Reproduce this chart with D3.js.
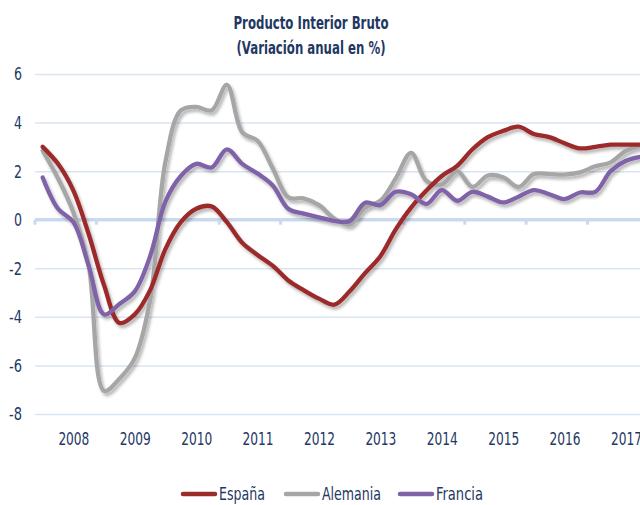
<!DOCTYPE html>
<html><head><meta charset="utf-8">
<script src="https://cdn.jsdelivr.net/npm/d3@7"></script>
<style>
html,body{margin:0;padding:0;background:#fff;overflow:hidden}
text{font-family:'Liberation Sans Narrow','Arial Narrow','DejaVu Sans Condensed',sans-serif;fill:#1f3864}
</style></head><body>
<svg id="c" width="640" height="505"></svg>
<script>
const title1 = "Producto Interior Bruto";
const title2 = "(Variación anual en %)";
const years = ["2008","2009","2010","2011","2012","2013","2014","2015","2016","2017"];
const yTicks = [-8,-6,-4,-2,0,2,4,6];
const seriesNames = ["España","Alemania","Francia"];
const seriesColors = ["#9c2b2b","#a6a6a6","#7f62a8"];
const espana = [3.0,2.3,1.2,-0.6,-2.7,-4.25,-3.9,-2.9,-1.2,-0.1,0.45,0.55,-0.1,-0.95,-1.45,-1.9,-2.5,-2.9,-3.25,-3.5,-2.95,-2.2,-1.5,-0.4,0.5,1.2,1.8,2.22,2.9,3.4,3.66,3.83,3.53,3.4,3.15,2.94,3.0,3.09,3.09,3.09];
const alemania = [2.84,1.7,0.3,-1.9,-7.05,-6.55,-5.7,-3.3,2.4,4.5,4.65,4.5,5.55,3.6,3.25,2.1,0.92,0.88,0.6,0.05,-0.2,0.5,0.78,1.7,2.75,1.6,1.45,2.0,1.35,1.82,1.75,1.35,1.88,1.88,1.86,1.95,2.2,2.36,2.84,3.05];
const francia = [1.74,0.45,-0.1,-1.9,-3.9,-3.47,-2.95,-1.5,0.75,1.8,2.3,2.15,2.9,2.3,1.9,1.4,0.45,0.25,0.1,-0.05,-0.05,0.7,0.6,1.15,1.05,0.65,1.22,0.78,1.15,0.95,0.71,0.95,1.22,1.05,0.85,1.12,1.15,2.0,2.43,2.6];

const series = [
  {name: seriesNames[0], color: seriesColors[0], values: espana},
  {name: seriesNames[1], color: seriesColors[1], values: alemania},
  {name: seriesNames[2], color: seriesColors[2], values: francia}
];

const svg = d3.select("#c");
const nQ = espana.length;
const x = d3.scaleLinear().domain([0, nQ]).range([35, 649]);
const y = d3.scaleLinear().domain([-8, 6]).range([414, 74]);

const defs = svg.append("defs");
const f = defs.append("filter").attr("id","sh").attr("x","-10%").attr("y","-10%").attr("width","120%").attr("height","130%");
f.append("feDropShadow").attr("dx",2).attr("dy",3).attr("stdDeviation",1.6).attr("flood-color","#000").attr("flood-opacity",0.28);

// title
svg.append("text").attr("x",311).attr("y",29).attr("text-anchor","middle")
  .attr("font-size",17).attr("font-weight","bold")
  .attr("textLength",155).attr("lengthAdjust","spacingAndGlyphs").text(title1);
svg.append("text").attr("x",311).attr("y",54).attr("text-anchor","middle")
  .attr("font-size",17).attr("font-weight","bold")
  .attr("textLength",149).attr("lengthAdjust","spacingAndGlyphs").text(title2);

// y axis with gridlines
const yAxis = d3.axisLeft(y).tickValues(yTicks).tickFormat(d => String(d))
  .tickSize(-(640-35)).tickPadding(13);
const gy = svg.append("g").attr("transform","translate(35,0)").call(yAxis);
gy.select(".domain").remove();
gy.selectAll(".tick line").attr("stroke","#dae5f2").attr("stroke-width",1.5);
gy.selectAll(".tick text").attr("font-size",17).attr("fill","#1f3864").attr("dy","0.35em")
  .attr("textLength", d => d < 0 ? 13 : 8).attr("lengthAdjust","spacingAndGlyphs");
gy.selectAll(".tick").filter(d => d === 0).select("line").attr("stroke-width",0);

// zero axis line with ticks
svg.append("line").attr("x1",35).attr("x2",640).attr("y1",y(0)).attr("y2",y(0))
  .attr("stroke","#c9daef").attr("stroke-width",3.5);
const xTicks = d3.range(0, nQ+1, 4);
svg.append("g").selectAll("line").data(xTicks).join("line")
  .attr("x1",d=>x(d)).attr("x2",d=>x(d)).attr("y1",y(0)).attr("y2",y(0)+5)
  .attr("stroke","#c9daef").attr("stroke-width",3);

// year labels
const xAxis = d3.axisBottom(x).tickValues(years.map((d,i)=>i*4+2.5))
  .tickFormat((d,i)=>years[i]).tickSize(0).tickPadding(0);
const gx = svg.append("g").attr("transform","translate(0,433)").call(xAxis);
gx.select(".domain").remove();
gx.selectAll(".tick text").attr("font-size",17).attr("fill","#1f3864")
  .attr("textLength",31).attr("lengthAdjust","spacingAndGlyphs");

// lines
const line = d3.line().x((d,i)=>x(i+0.5)).y(d=>y(d)).curve(d3.curveCatmullRom.alpha(0.5));
const drawOrder = [1,0,2];
svg.append("g").attr("filter","url(#sh)").selectAll("path").data(drawOrder.map(k=>series[k])).join("path")
  .attr("d",d=>line(d.values)).attr("fill","none").attr("stroke",d=>d.color)
  .attr("stroke-width",4.3).attr("stroke-linejoin","round").attr("stroke-linecap","round");

// legend
const legX = [183, 286, 400];
const legW = [46, 59, 47];
const lg = svg.append("g");
series.forEach((s,i)=>{
  lg.append("line").attr("x1",legX[i]).attr("x2",legX[i]+32).attr("y1",494).attr("y2",494)
    .attr("stroke",s.color).attr("stroke-width",4.5).attr("stroke-linecap","round");
  lg.append("text").attr("x",legX[i]+36).attr("y",500).attr("font-size",17)
    .attr("textLength",legW[i]).attr("lengthAdjust","spacingAndGlyphs").text(s.name);
});
</script></body></html>
